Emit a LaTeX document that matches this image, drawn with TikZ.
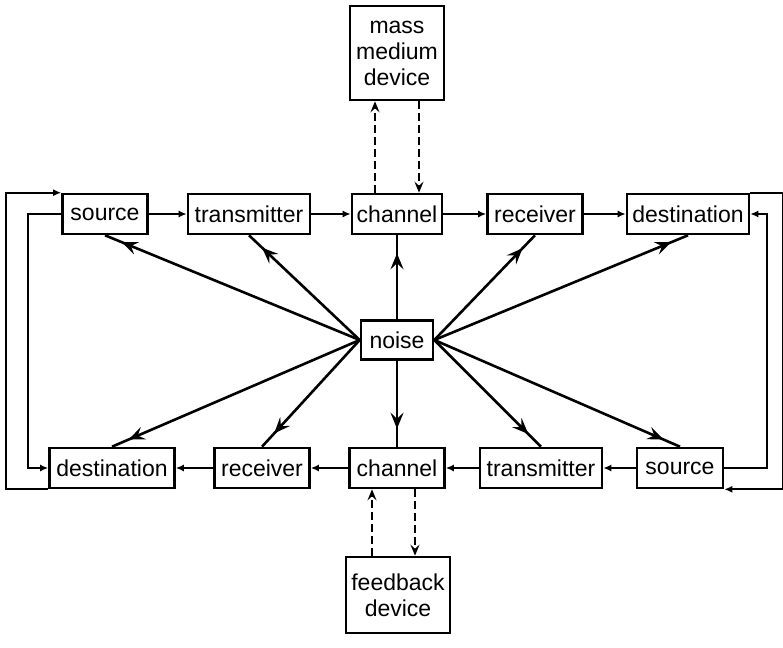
\documentclass[tikz,border=0pt]{standalone}
\usepackage{fontspec}
\setmainfont{Liberation Sans}
\usetikzlibrary{arrows.meta,decorations.markings}

\tikzset{every picture/.style={line width=0.75pt}}
\tikzset{
  block/.style={draw, line width=2.6pt, minimum height=40, inner sep=0pt, align=center, font=\fontsize{23}{26}\selectfont},
  flow/.style={line width=2pt, -{Latex[length=8pt,width=7pt]}},
  noisy/.style={line width=2.6pt, postaction={decorate}, decoration={markings, mark=at position -18pt with {\arrow{Stealth[length=16pt,width=13pt,inset=6pt]}}}},
  linkdash/.style={line width=2.4pt, dash pattern=on 8pt off 4pt, -{Stealth[length=11pt,width=9pt,inset=4pt]}}
}

\begin{document}
\begin{tikzpicture}[x=1pt,y=1pt,yscale=-1]
	\useasboundingbox (0,0) rectangle (783,647);

	%Shape: Rectangle (mass medium)
	\node[block, minimum width=94, minimum height=94] (mass) at (397,53) {mass\\medium\\device};
	%Shape: Rectangle (upper row)
	\node[block, minimum width=85] (srcA) at (105,214) {source};
	\node[block, minimum width=122] (trnA) at (249,214) {transmitter};
	\node[block, minimum width=90] (chnA) at (397,214) {channel};
	\node[block, minimum width=95] (rcvA) at (535,214) {receiver};
	\node[block, minimum width=122] (dstA) at (688,214) {destination};
	%Shape: Rectangle (noise)
	\node[block, minimum width=72, minimum height=39] (noise) at (397,340) {noise};
	%Shape: Rectangle (lower row)
	\node[block, minimum width=125] (dstB) at (112,468) {destination};
	\node[block, minimum width=95] (rcvB) at (262,468) {receiver};
	\node[block, minimum width=95] (chnB) at (397,468) {channel};
	\node[block, minimum width=122] (trnB) at (541,468) {transmitter};
	\node[block, minimum width=86] (srcB) at (680,468) {source};
	%Shape: Rectangle (feedback)
	\node[block, minimum width=104, minimum height=76] (feed) at (398,595) {feedback\\device};

	%Straight Lines (upper flow)
	\draw[flow] (srcA) -- (trnA);
	\draw[flow] (trnA) -- (chnA);
	\draw[flow] (chnA) -- (rcvA);
	\draw[flow] (rcvA) -- (dstA);
	%Straight Lines (lower flow)
	\draw[flow] (srcB) -- (trnB);
	\draw[flow] (trnB) -- (chnB);
	\draw[flow] (chnB) -- (rcvB);
	\draw[flow] (rcvB) -- (dstB);

	%Straight Lines (dashed links)
	\draw[linkdash] ([xshift=-22]chnA.north) -- ([xshift=-22]chnA.north |- mass.south);
	\draw[linkdash] ([xshift=22]mass.south) -- ([xshift=22]mass.south |- chnA.north);
	\draw[linkdash] ([xshift=-26]feed.north) -- ([xshift=-26]feed.north |- chnB.south);
	\draw[linkdash] ([xshift=18]chnB.south) -- ([xshift=18]chnB.south |- feed.north);

	%Straight Lines (noise)
	\draw[noisy] (noise.west) -- (srcA.south);
	\draw[noisy] (noise.west) -- (trnA.south);
	\draw[noisy] (noise.north) -- (chnA.south);
	\draw[noisy] (noise.east) -- (rcvA.south);
	\draw[noisy] (noise.east) -- (dstA.south);
	\draw[noisy] (noise.west) -- (dstB.north);
	\draw[noisy] (noise.west) -- (rcvB.north);
	\draw[noisy] (noise.south) -- (chnB.north);
	\draw[noisy] (noise.east) -- (trnB.north);
	\draw[noisy] (noise.east) -- (srcB.north);

	%Straight Lines (return loops)
	\draw[flow] (dstB.south west) -- ++(-42,0) |- (srcA.north west);
	\draw[flow] (srcA.west) -- ++(-33,0) |- (dstB.west);
	\draw[flow] (dstA.north east) -- ++(33,0) |- (srcB.south east);
	\draw[flow] (srcB.east) -- ++(43,0) |- (dstA.east);

\end{tikzpicture}
\end{document}
